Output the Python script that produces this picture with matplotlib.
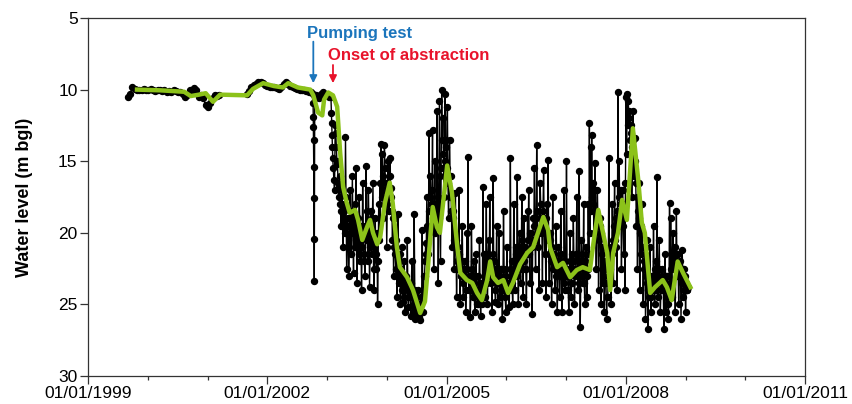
import numpy as np
import pandas as pd
import matplotlib
matplotlib.use("Agg")
import matplotlib.pyplot as plt
import matplotlib.dates as mdates
from datetime import datetime, timedelta

plt.rcParams['font.family'] = ['Liberation Sans', 'DejaVu Sans']

# --- observed water levels (m bgl) ---
# before abstraction, fortnightly readings (NaN = no data)
pre_start = '1999-09-01'
pre_vals = [10.5, 10.3, 9.85, 9.95, 10.0, 10.05, 10.0, 9.95, 10.0, 10.0,
            9.95, 10.05, 10.1, 10.05, 10.0, 10.1, 10.05, 10.15, 10.1, 10.15,
            10.05, 10.1, 10.2, 10.15, 10.3, 10.5, 10.4, 10.0, 10.2, 9.9,
            10.0, 10.5, 10.4, 10.6, 11.1, 11.2, 10.9, 10.6, 10.4, 10.45,
            10.35,
            np.nan, np.nan, np.nan, np.nan, np.nan, np.nan, np.nan, np.nan,
            np.nan, np.nan, np.nan,
            10.3, 10.1, 9.8, 9.7, 9.6, 9.5, 9.45, 9.55, 9.7, 9.75,
            9.8, 9.8, 9.85, 9.9, 9.95, 9.85, 9.6, 9.5, 9.6, 9.75,
            9.85, 9.9, 9.95, 10.0, 10.0, 10.05, 10.1, 10.15, 10.2]

# pumping test and onset of abstraction
test_dates = ['2002-10-05', '2002-10-08', '2002-10-09', '2002-10-10', '2002-10-11',
              '2002-10-12', '2002-10-13', '2002-10-14', '2002-10-15', '2002-10-18',
              '2002-10-28', '2002-11-10', '2002-11-25', '2002-12-10', '2002-12-28',
              '2003-01-12', '2003-01-25', '2003-01-28', '2003-01-30', '2003-02-01',
              '2003-02-03', '2003-02-05', '2003-02-08', '2003-02-12', '2003-02-16']
test_vals = [10.3, 10.9, 11.9, 12.6, 13.5, 15.4, 17.6, 20.4, 23.4, 10.6,
             10.4, 10.6, 10.3, 10.2, 10.4, 10.5, 10.5, 11.6, 12.3, 13.2,
             14.0, 14.8, 15.5, 16.3, 17.0]

# during abstraction, weekly readings (start of week)
post_start = '2003-02-20'
post_vals = [
    12.5, 14.0, 15.2, 17.5, 16.0, 19.5, 17.0, 21.0, 18.5, 13.3, 22.5, 19.0, 23.0,
    17.0, 21.5, 16.0, 22.8, 18.0, 15.5, 23.5, 20.0, 17.5, 22.0, 24.0, 16.5, 21.5,
    23.0, 15.3, 20.5, 17.0, 23.8, 18.5, 21.5, 16.5, 24.0, 19.0, 22.5, 25.0, 18.0,
    16.5, 13.8, 14.5, 19.0, 13.9, 17.5, 21.0, 15.0, 18.5, 14.8, 16.9, 20.5, 23.0,
    19.0, 22.5, 24.5, 18.7, 23.5, 25.0, 21.0, 24.8, 22.0, 25.5, 23.5, 20.5, 25.2,
    24.5, 25.8, 22.0, 25.5, 18.7, 26.0, 25.2, 24.0, 25.9, 26.1, 24.5, 19.8, 25.5,
    23.0, 20.7, 17.5, 21.5, 13.0, 16.0, 19.5, 12.8, 22.5, 15.0, 18.0, 11.5, 23.5,
    10.8, 22.0, 10.0, 12.0, 17.5, 10.3, 13.5, 11.2, 19.0, 13.5, 16.0, 21.0, 18.5,
    22.5, 17.2, 24.5, 21.0, 17.0, 25.0, 23.0, 19.5, 24.5, 22.0, 25.5, 20.0, 14.7,
    24.0, 25.9, 19.5, 24.5, 22.0, 25.5, 21.5, 25.0, 23.0, 20.5, 25.8, 24.0, 16.8,
    21.5, 24.5, 18.0, 25.0, 20.5, 17.5, 23.5, 25.5, 16.2, 22.0, 24.8, 19.5, 25.0,
    20.0, 24.5, 22.5, 26.0, 18.5, 24.0, 25.5, 21.0, 23.5, 25.2, 14.8, 22.0, 25.0,
    18.0, 24.0, 21.0, 16.1, 25.0, 20.0, 23.5, 17.5, 24.5, 19.0, 22.5, 25.0, 18.5,
    17.0, 23.5, 20.0, 25.7, 19.0, 15.5, 22.5, 13.9, 21.0, 24.0, 16.5, 20.0, 23.5,
    15.6, 21.5, 24.5, 18.0, 14.9, 23.5, 20.0, 25.0, 17.5, 22.5, 24.0, 19.5, 25.5,
    21.0, 24.5, 18.5, 25.5, 22.0, 17.0, 24.0, 15.0, 23.0, 25.5, 20.0, 24.5, 21.5,
    19.0, 25.0, 22.5, 17.5, 24.0, 15.7, 26.6, 20.5, 23.5, 18.0, 25.0, 21.0, 24.5,
    18.0, 12.3, 14.0, 13.2, 16.5, 20.0, 15.1, 22.5, 17.0, 24.0, 19.5, 25.0, 21.5,
    23.5, 25.5, 22.0, 26.0, 24.5, 14.8, 22.5, 25.0, 18.0, 23.5, 16.5, 21.0, 24.0,
    10.2, 15.0, 19.5, 22.5, 17.0, 21.5, 24.0, 10.5, 10.3, 10.8, 11.5, 13.0, 17.5,
    11.5, 16.0, 13.4, 19.5, 22.5, 16.5, 24.0, 21.5, 18.0, 25.0, 22.5, 26.0, 20.5,
    26.7, 24.5, 21.0, 25.5, 23.0, 19.5, 25.0, 22.0, 16.1, 24.5, 20.5, 25.5, 22.5,
    24.0, 26.7, 21.5, 25.5, 23.0, 26.0, 17.9, 19.0, 24.5, 20.0, 22.5, 25.5, 18.5,
    21.5, 25.0, 23.0, 26.0, 21.2, 24.5, 22.5, 25.5, 24.0, 23.8]

# mid-week readings during abstraction
mid_start = '2003-02-23 12:00'
mid_vals = [
    13.0, 15.0, 16.5, 16.8, 18.0, 18.5, 19.5, 18.0, 20.0, 17.5, 19.5, 21.0, 20.0,
    19.5, 18.5, 20.0, 19.0, 21.0, 20.5, 19.0, 21.5, 19.5, 20.5, 21.0, 19.5, 22.0,
    20.0, 18.5, 22.0, 19.5, 21.0, 20.0, 19.0, 22.5, 20.5, 21.5, 20.0, 22.0, 20.5,
    19.0, 17.5, 16.0, 17.0, 15.5, 16.5, 18.0, 17.0, 16.0, 17.5, 18.5, 19.0, 21.0,
    21.5, 20.5, 22.5, 23.0, 21.5, 22.5, 24.0, 23.0, 24.5, 23.0, 24.0, 24.5, 23.5,
    24.0, 23.5, 24.5, 25.0, 24.0, 25.5, 24.5, 25.0, 25.5, 25.0, 24.5, 24.0, 23.0,
    22.0, 21.5, 19.5, 18.5, 17.5, 18.0, 17.0, 19.0, 18.5, 20.0, 19.5, 17.5, 19.0,
    16.0, 15.5, 13.5, 14.5, 15.0, 14.0, 15.5, 16.5, 16.0, 17.5, 18.5, 19.0, 20.5,
    21.0, 20.5, 22.0, 22.5, 21.5, 23.0, 22.0, 23.5, 22.5, 23.0, 24.0, 22.5, 23.0,
    23.0, 24.0, 22.5, 23.5, 24.5, 23.0, 24.0, 25.0, 24.5, 23.5, 24.0, 25.0, 23.5,
    23.0, 22.0, 23.5, 21.5, 22.5, 23.0, 22.0, 21.5, 23.0, 24.0, 22.5, 23.5, 22.5,
    23.0, 22.5, 24.0, 23.5, 22.5, 24.5, 23.0, 24.0, 23.5, 22.5, 24.0, 23.5, 23.0,
    22.5, 21.5, 23.0, 22.0, 21.0, 22.5, 21.5, 20.5, 22.0, 21.0, 22.5, 21.5, 20.5,
    21.5, 20.0, 21.0, 20.5, 19.5, 20.5, 19.0, 18.5, 20.0, 19.0, 18.0, 19.5, 18.5,
    19.5, 20.0, 19.0, 20.5, 21.5, 20.5, 22.0, 21.0, 22.5, 21.5, 23.0, 22.0, 22.5,
    22.0, 23.0, 21.5, 22.5, 23.5, 22.0, 23.0, 22.5, 24.0, 23.0, 22.0, 23.5, 22.5,
    22.0, 23.0, 21.5, 22.5, 23.5, 22.0, 23.0, 21.5, 22.5, 23.5, 22.0, 23.0, 22.5,
    21.5, 20.0, 18.5, 17.5, 18.0, 17.0, 18.5, 19.0, 19.5, 20.5, 19.0, 20.0, 21.0,
    21.0, 22.5, 23.5, 24.5, 23.0, 22.0, 21.0, 21.5, 20.5, 19.5, 20.5, 19.0, 18.5,
    17.5, 18.0, 17.0, 18.5, 19.5, 18.0, 16.5, 14.5, 12.5, 12.0, 13.5, 12.5, 14.0,
    13.5, 15.0, 16.5, 17.5, 18.5, 19.0, 20.0, 19.5, 21.0, 22.0, 21.5, 23.0, 23.5,
    24.0, 23.5, 24.5, 23.0, 24.0, 23.5, 22.5, 24.0, 23.0, 22.5, 23.5, 24.0, 23.0,
    23.5, 24.0, 23.0, 24.5, 25.0, 24.0, 23.5, 22.5, 21.5, 22.5, 21.0, 22.0, 23.0,
    22.5, 23.0, 22.0, 23.5, 22.5, 24.0, 23.0, 23.5, 24.0]

# --- smoothed trend (decimal year, m bgl) ---
green_yr = [1999.82, 2000.21, 2000.61, 2000.72, 2000.86, 2000.97, 2001.09, 2001.21, 2001.66, 2001.76,
            2001.93, 2002.11, 2002.26, 2002.35, 2002.51, 2002.72, 2002.77, 2002.85, 2002.92, 2002.95,
            2003.02, 2003.10, 2003.17, 2003.22, 2003.27, 2003.33, 2003.38, 2003.47, 2003.52, 2003.59,
            2003.67, 2003.72, 2003.77, 2003.84, 2003.89, 2003.97, 2004.05, 2004.10, 2004.17, 2004.22,
            2004.34, 2004.44, 2004.50, 2004.56, 2004.64, 2004.69, 2004.77, 2004.84, 2004.89, 2005.01,
            2005.09, 2005.18, 2005.23, 2005.34, 2005.43, 2005.51, 2005.59, 2005.68, 2005.73, 2005.78,
            2005.86, 2005.95, 2006.03, 2006.11, 2006.23, 2006.35, 2006.45, 2006.53, 2006.62, 2006.70,
            2006.73, 2006.85, 2006.95, 2007.07, 2007.18, 2007.28, 2007.40, 2007.45, 2007.54, 2007.62,
            2007.69, 2007.74, 2007.79, 2007.87, 2007.94, 2008.02, 2008.12, 2008.21, 2008.27, 2008.32,
            2008.41, 2008.49, 2008.62, 2008.69, 2008.77, 2008.87, 2008.96, 2009.08]
green_val = [10.0, 10.05, 10.15, 10.45, 10.35, 10.25, 10.85, 10.35, 10.4, 9.95,
             9.55, 9.75, 9.85, 9.55, 9.85, 10.0, 10.4, 11.6, 11.8, 10.7,
             10.2, 10.4, 11.2, 14.4, 16.8, 17.9, 18.6, 18.4, 19.1, 20.5,
             19.6, 19.1, 20.0, 20.8, 20.3, 17.9, 16.5, 17.9, 21.0, 22.4,
             23.1, 24.0, 24.8, 25.6, 24.8, 22.4, 18.2, 19.6, 20.0, 15.3,
             17.2, 21.0, 22.8, 23.3, 23.5, 24.2, 24.7, 23.3, 22.0, 23.1,
             23.5, 23.3, 24.2, 23.5, 22.2, 21.4, 21.0, 20.0, 18.9, 19.8,
             21.0, 22.4, 22.1, 23.1, 22.6, 22.4, 22.6, 21.0, 18.4, 20.0,
             21.4, 24.0, 21.4, 20.0, 17.7, 19.1, 12.7, 16.3, 19.3, 20.0,
             24.2, 23.8, 23.3, 23.8, 24.7, 22.0, 22.8, 23.8]

xtick_years = [1999, 2002, 2005, 2008, 2011]


def dec2date(y):
    base = datetime(int(y), 1, 1)
    return base + timedelta(days=(y - int(y)) * 365.25)


obs = pd.concat([
    pd.Series(pre_vals, index=pd.date_range(pre_start, periods=len(pre_vals), freq='14D')),
    pd.Series(test_vals, index=pd.to_datetime(test_dates)),
    pd.Series(post_vals, index=pd.date_range(post_start, periods=len(post_vals), freq='7D')),
    pd.Series(mid_vals, index=pd.date_range(mid_start, periods=len(mid_vals), freq='7D')),
]).sort_index()
green_dates = [dec2date(y) for y in green_yr]

fig = plt.figure(figsize=(8.53, 4.04), dpi=100)
ax = fig.add_axes([0.1032, 0.0693, 0.8405, 0.8861])

ax.plot(obs.index, obs.values, color='black', lw=1.0, marker='o', ms=4.3,
        mec='black', mfc='black', zorder=2)
ax.plot(green_dates, green_val, color='#8cc21a', lw=3.2, zorder=3)

ax.set_xlim(datetime(1999, 1, 1), datetime(2011, 1, 1))
ax.set_ylim(30, 5)
ax.set_yticks([5, 10, 15, 20, 25, 30])
ax.set_xticks([datetime(y, 1, 1) for y in xtick_years])
ax.xaxis.set_minor_locator(mdates.YearLocator(1))
ax.xaxis.set_major_formatter(mdates.DateFormatter('%d/%m/%Y'))

for s in ax.spines.values():
    s.set_color('#333333')
    s.set_linewidth(0.9)
ax.tick_params(axis='both', which='major', direction='out', length=5.5, width=0.9,
               color='#333333', labelsize=12.5, pad=2)
ax.tick_params(axis='x', which='minor', direction='out', length=3.2, width=0.9,
               color='#333333')

ax.set_ylabel('Water level (m bgl)', fontsize=13, fontweight='bold')
ax.yaxis.set_label_coords(-0.077, 0.5)

# annotations
ax.annotate('', xy=(dec2date(2002.77), 9.55), xytext=(dec2date(2002.77), 6.65),
            arrowprops=dict(arrowstyle='-|>', color='#1b75bc', lw=1.3,
                            mutation_scale=11, shrinkA=0, shrinkB=0))
ax.text(dec2date(2003.55), 6.05, 'Pumping test', color='#1b75bc', fontsize=12,
        fontweight='bold', ha='center', va='center')
ax.annotate('', xy=(dec2date(2003.10), 9.55), xytext=(dec2date(2003.10), 8.28),
            arrowprops=dict(arrowstyle='-|>', color='#e8132b', lw=1.3,
                            mutation_scale=11, shrinkA=0, shrinkB=0))
ax.text(dec2date(2004.37), 7.65, 'Onset of abstraction', color='#e8132b', fontsize=12,
        fontweight='bold', ha='center', va='center')

fig.savefig('out.png', dpi=100)
